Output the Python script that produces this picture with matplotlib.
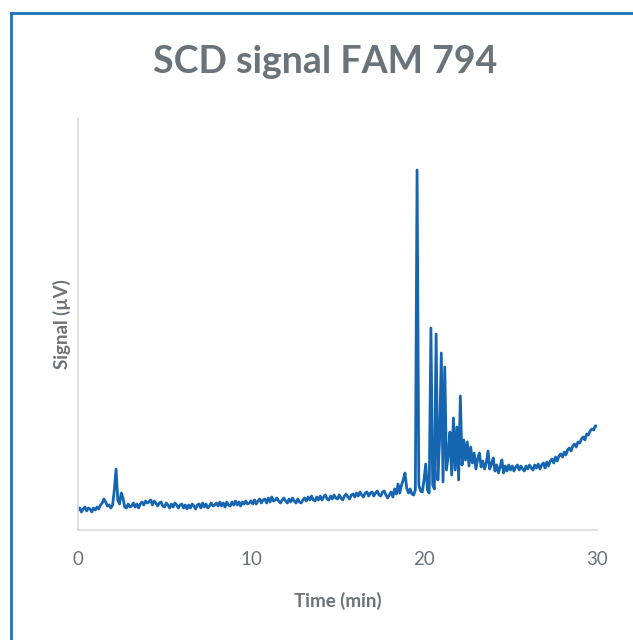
import numpy as np
import matplotlib.pyplot as plt
from matplotlib.lines import Line2D

# Time axis in minutes, one reading every 0.1 min
time_min = np.round(np.arange(0, 301) * 0.1, 1)

# Signal (arbitrary µV)
signal_uv = [
    20, 22, 18, 21, 23, 19, 22, 21, 18, 22,     # 0-1
    20, 23, 21, 25, 27, 31, 28, 24, 25, 22,     # 1-2
    25, 40, 61, 30, 26, 37, 32, 23, 22, 26,     # 2-3
    23, 24, 27, 23, 26, 22, 26, 28, 25, 29,     # 3-4
    27, 28, 30, 25, 29, 27, 24, 27, 28, 24,     # 4-5
    23, 27, 25, 22, 26, 23, 27, 25, 22, 25,     # 5-6
    26, 22, 25, 21, 25, 22, 26, 24, 21, 25,     # 6-7
    26, 22, 27, 23, 26, 22, 24, 27, 24, 25,     # 7-8
    27, 24, 28, 24, 27, 23, 28, 25, 24, 28,     # 8-9
    25, 29, 25, 28, 24, 28, 26, 29, 26, 27,     # 9-10
    29, 26, 30, 26, 29, 31, 27, 30, 31, 27,     # 10-11
    32, 28, 33, 29, 30, 32, 29, 27, 30, 32,     # 11-12
    29, 27, 31, 28, 32, 29, 27, 31, 28, 27,     # 12-13
    30, 32, 29, 33, 30, 34, 30, 29, 33, 30,     # 13-14
    34, 30, 33, 35, 31, 30, 34, 31, 35, 32,     # 14-15
    31, 35, 32, 30, 34, 36, 33, 31, 35, 36,     # 15-16
    33, 37, 34, 38, 35, 33, 37, 38, 34, 37,     # 16-17
    38, 34, 37, 39, 35, 34, 38, 39, 35, 32,     # 17-18
    35, 38, 33, 41, 36, 46, 37, 45, 50, 57,     # 18-19
    42, 37, 41, 36, 35, 40, 360, 45, 39, 38,    # 19-20
    50, 66, 40, 37, 202, 45, 41, 196, 50, 90,   # 20-21
    177, 48, 163, 60, 75, 98, 55, 112, 60, 103, # 21-22
    50, 134, 65, 90, 70, 88, 64, 83, 67, 77,    # 22-23
    61, 71, 77, 63, 69, 61, 67, 79, 61, 66,     # 23-24
    72, 59, 65, 57, 63, 70, 57, 64, 59, 65,     # 24-25
    60, 64, 59, 63, 65, 60, 64, 61, 59, 64,     # 25-26
    61, 65, 62, 60, 65, 62, 66, 61, 65, 67,     # 26-27
    62, 68, 64, 69, 71, 67, 73, 69, 74, 76,     # 27-28
    73, 78, 75, 80, 82, 79, 84, 86, 83, 88,     # 28-29
    87, 91, 93, 90, 96, 95, 99, 101, 100, 104,  # 29-30
    104,
]

x_ticks = [0, 10, 20, 30]

gray = "#6b737a"
line_color = "#1565b0"

plt.rcParams["font.family"] = ["Lato", "DejaVu Sans"]

fig = plt.figure(figsize=(6.33, 6.40), dpi=100)
ax = fig.add_axes([78 / 633, 1 - 530 / 640, 519 / 633, 412 / 640])

ax.plot(time_min, signal_uv, color=line_color, linewidth=2.0)

ax.set_xlim(0, 30)
ax.set_ylim(0, 412)
ax.set_xticks(x_ticks)
ax.set_yticks([])
ax.tick_params(axis="x", length=0, pad=15, labelsize=13.5, labelcolor=gray)

for side in ["top", "right"]:
    ax.spines[side].set_visible(False)
ax.spines["left"].set_color("#d9d9d9")
ax.spines["bottom"].set_color("#d9d9d9")
ax.spines["left"].set_linewidth(1.2)
ax.spines["bottom"].set_linewidth(1.2)

ax.set_xlabel("Time (min)", fontsize=13.5, fontweight="bold", color=gray, labelpad=17)
ax.set_ylabel("Signal (µV)", fontsize=13.5, fontweight="bold", color=gray, labelpad=5)

fig.text(325 / 633, 1 - 62 / 640, "SCD signal FAM 794", ha="center", va="center",
         fontsize=27, fontweight="bold", color=gray)

# chart frame (only top and left edges are visible in the crop)
fig.add_artist(Line2D([10.5 / 633, 10.5 / 633], [0, 1 - 13 / 640], transform=fig.transFigure,
                      color="#1f6fba", linewidth=2))
fig.add_artist(Line2D([10.5 / 633, 1], [1 - 13 / 640, 1 - 13 / 640], transform=fig.transFigure,
                      color="#1f6fba", linewidth=2))

fig.savefig("out.png", dpi=100)
